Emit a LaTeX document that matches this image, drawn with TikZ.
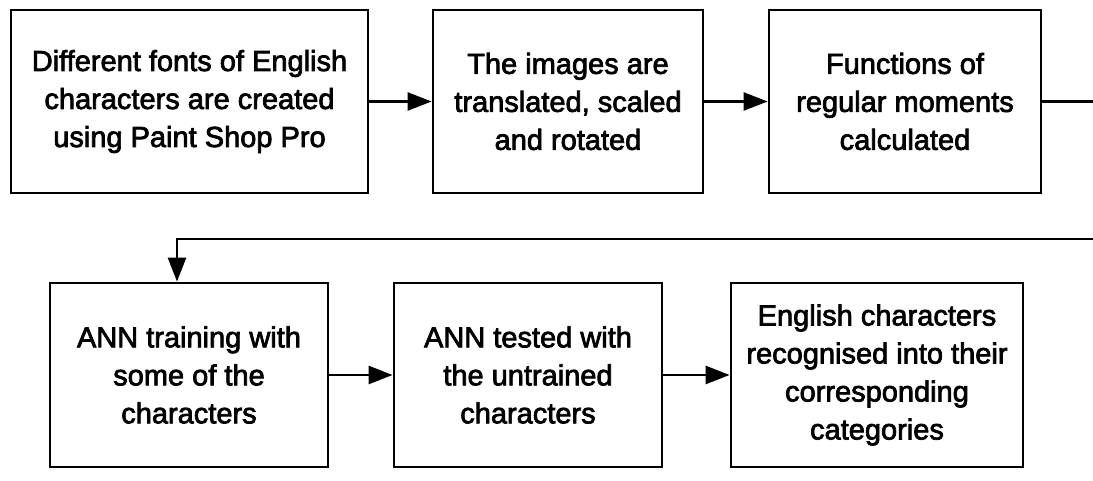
\documentclass[tikz,border=0pt]{standalone}
\usepackage{fontspec}
\setmainfont{Liberation Sans}
\newfontfamily\stagefont{Liberation Sans}[FakeBold=2.5]
\usepackage{tikz}
\usetikzlibrary{arrows.meta,positioning,calc}

\tikzset{
    stagebox/.style={draw, line width=2.8pt, align=center, inner sep=0pt,
        font=\stagefont\fontsize{29}{38}\selectfont},
    flow/.style={line width=2.6pt, -{Triangle[length=24pt,width=18pt]}}
}

\begin{document}
\begin{tikzpicture}[x=1pt,y=1pt]
    \useasboundingbox (0,0) rectangle (1093,481);

    \node[stagebox, minimum width=357pt, minimum height=183pt] (fonts) at (189.5,379.5)
        {Different fonts of English\\characters are created\\using Paint Shop Pro};
    \node[stagebox, minimum width=270pt, minimum height=183pt] (images) at (568,379.5)
        {The images are\\translated, scaled\\and rotated};
    \node[stagebox, minimum width=272pt, minimum height=183pt] (moments) at (905,379.5)
        {Functions of\\regular moments\\calculated};

    \node[stagebox, minimum width=278pt, minimum height=184pt] (training) at (189,106)
        {ANN training with\\some of the\\characters};
    \node[stagebox, minimum width=268pt, minimum height=184pt] (testing) at (528,106)
        {ANN tested with\\the untrained\\characters};
    \node[stagebox, minimum width=292pt, minimum height=184pt] (result) at (877,106)
        {English characters\\recognised into their\\corresponding\\categories};

    \coordinate (outR) at (1093,379.5);
    \coordinate (backR) at (1093,242);

    \draw[flow] (fonts) -- (images);
    \draw[flow] (images) -- (moments);
    \draw[line width=2.6pt] (moments.east) -- (outR);
    \draw[flow] (backR) -- (177,242) -- (177,0 |- training.north);
    \draw[flow] (training) -- (testing);
    \draw[flow] (testing) -- (result);
\end{tikzpicture}
\end{document}
